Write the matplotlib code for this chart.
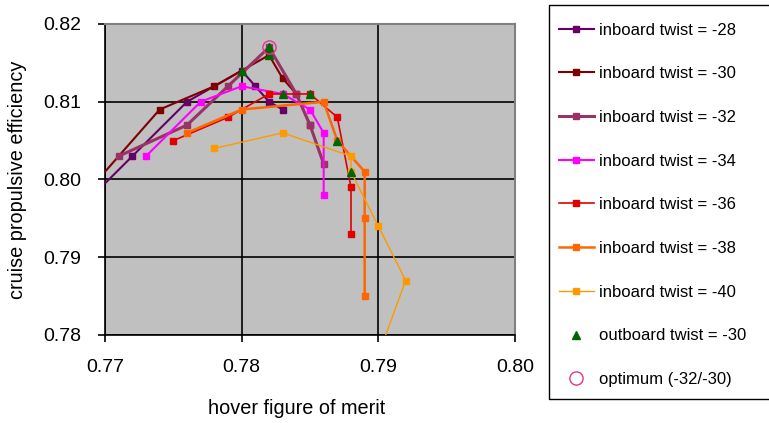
import matplotlib
matplotlib.use("Agg")
import matplotlib.pyplot as plt
from matplotlib.patches import Rectangle

plt.rcParams['font.family'] = ['Liberation Sans', 'DejaVu Sans']

# --------------------------
# Data (hover FM, cruise efficiency) per inboard twist
# --------------------------
fm_28 = [0.768, 0.772, 0.776, 0.780, 0.781, 0.782, 0.783]
eff_28 = [0.796, 0.803, 0.810, 0.814, 0.812, 0.810, 0.809]

fm_30 = [0.768, 0.774, 0.778, 0.782, 0.783, 0.784, 0.785]
eff_30 = [0.797, 0.809, 0.812, 0.816, 0.813, 0.811, 0.807]

fm_32 = [0.771, 0.776, 0.779, 0.782, 0.784, 0.785, 0.786]
eff_32 = [0.803, 0.807, 0.812, 0.817, 0.811, 0.807, 0.802]

fm_34 = [0.773, 0.777, 0.780, 0.783, 0.785, 0.786, 0.786]
eff_34 = [0.803, 0.810, 0.812, 0.811, 0.809, 0.806, 0.798]

fm_36 = [0.775, 0.779, 0.782, 0.785, 0.787, 0.788, 0.788]
eff_36 = [0.805, 0.808, 0.811, 0.811, 0.808, 0.799, 0.793]

fm_38 = [0.776, 0.780, 0.786, 0.787, 0.789, 0.789, 0.789]
eff_38 = [0.806, 0.809, 0.810, 0.805, 0.801, 0.795, 0.785]

fm_40 = [0.778, 0.783, 0.788, 0.788, 0.790, 0.792, 0.7895]
eff_40 = [0.804, 0.806, 0.803, 0.801, 0.794, 0.787, 0.775]

# outboard twist = -30 points (one per inboard twist)
fm_out30 = [0.780, 0.782, 0.782, 0.783, 0.785, 0.787, 0.788]
eff_out30 = [0.814, 0.816, 0.817, 0.811, 0.811, 0.805, 0.801]

fm_opt = [0.782]
eff_opt = [0.817]

series = [
    ("inboard twist = -28", fm_28, eff_28, "#660066", 1.5),
    ("inboard twist = -30", fm_30, eff_30, "#800000", 1.5),
    ("inboard twist = -32", fm_32, eff_32, "#993366", 2.2),
    ("inboard twist = -34", fm_34, eff_34, "#FF00FF", 1.5),
    ("inboard twist = -36", fm_36, eff_36, "#E00000", 1.2),
    ("inboard twist = -38", fm_38, eff_38, "#FF6600", 1.8),
    ("inboard twist = -40", fm_40, eff_40, "#FF9900", 1.0),
]

# --------------------------
# Plot
# --------------------------
fig = plt.figure(figsize=(7.69, 4.23), dpi=100)
ax = fig.add_axes([105/769, 88/423, 410/769, 311/423])
ax.set_facecolor("#C0C0C0")

handles = []
for label, x, y, color, lw in series:
    h, = ax.plot(x, y, color=color, lw=lw, marker="s", markersize=4.8,
                 markerfacecolor=color, markeredgecolor=color, label=label, zorder=3)
    handles.append(h)

h, = ax.plot(fm_out30, eff_out30, ls="none", marker="^", markersize=6,
             color="#006600", label="outboard twist = -30", zorder=4)
handles.append(h)
h, = ax.plot(fm_opt, eff_opt, ls="none", marker="o", markersize=9.5, markerfacecolor="none",
             markeredgecolor="#E6338C", markeredgewidth=1.0, label="optimum (-32/-30)", zorder=5)
handles.append(h)

ax.set_xlim(0.77, 0.80)
ax.set_ylim(0.78, 0.82)
ax.set_xticks([0.77, 0.78, 0.79, 0.80])
ax.set_yticks([0.78, 0.79, 0.80, 0.81, 0.82])
ax.set_xticklabels(["0.77", "0.78", "0.79", "0.80"])
ax.set_yticklabels(["0.78", "0.79", "0.80", "0.81", "0.82"])
ax.grid(True, color="black", lw=1.2, zorder=1)
ax.set_axisbelow(True)
ax.tick_params(direction="out", length=5, width=1.2, labelsize=14, pad=12)

for side in ["top", "right"]:
    ax.spines[side].set_color("#808080")
    ax.spines[side].set_linewidth(1.5)
for side in ["left", "bottom"]:
    ax.spines[side].set_color("black")
    ax.spines[side].set_linewidth(1.2)

fig.text(297/769, 1 - 408/423, "hover figure of merit", ha="center", va="center", fontsize=14.3)
fig.text(18/769, 1 - 180/423, "cruise propulsive efficiency", ha="center", va="center",
         rotation=90, fontsize=14.3)

# legend box
fig.patches.append(Rectangle((549/769, 1 - 399/423), 240/769, 394/423,
                             transform=fig.transFigure, facecolor="white",
                             edgecolor="black", lw=1.0, zorder=0))
fig.legend(handles=handles, loc="upper left", bbox_to_anchor=(552/769, 1 - 16/423),
           frameon=False, fontsize=12, labelspacing=1.72, handlelength=2.1,
           handletextpad=0.3, borderaxespad=0)

fig.savefig("out.png", dpi=100)
